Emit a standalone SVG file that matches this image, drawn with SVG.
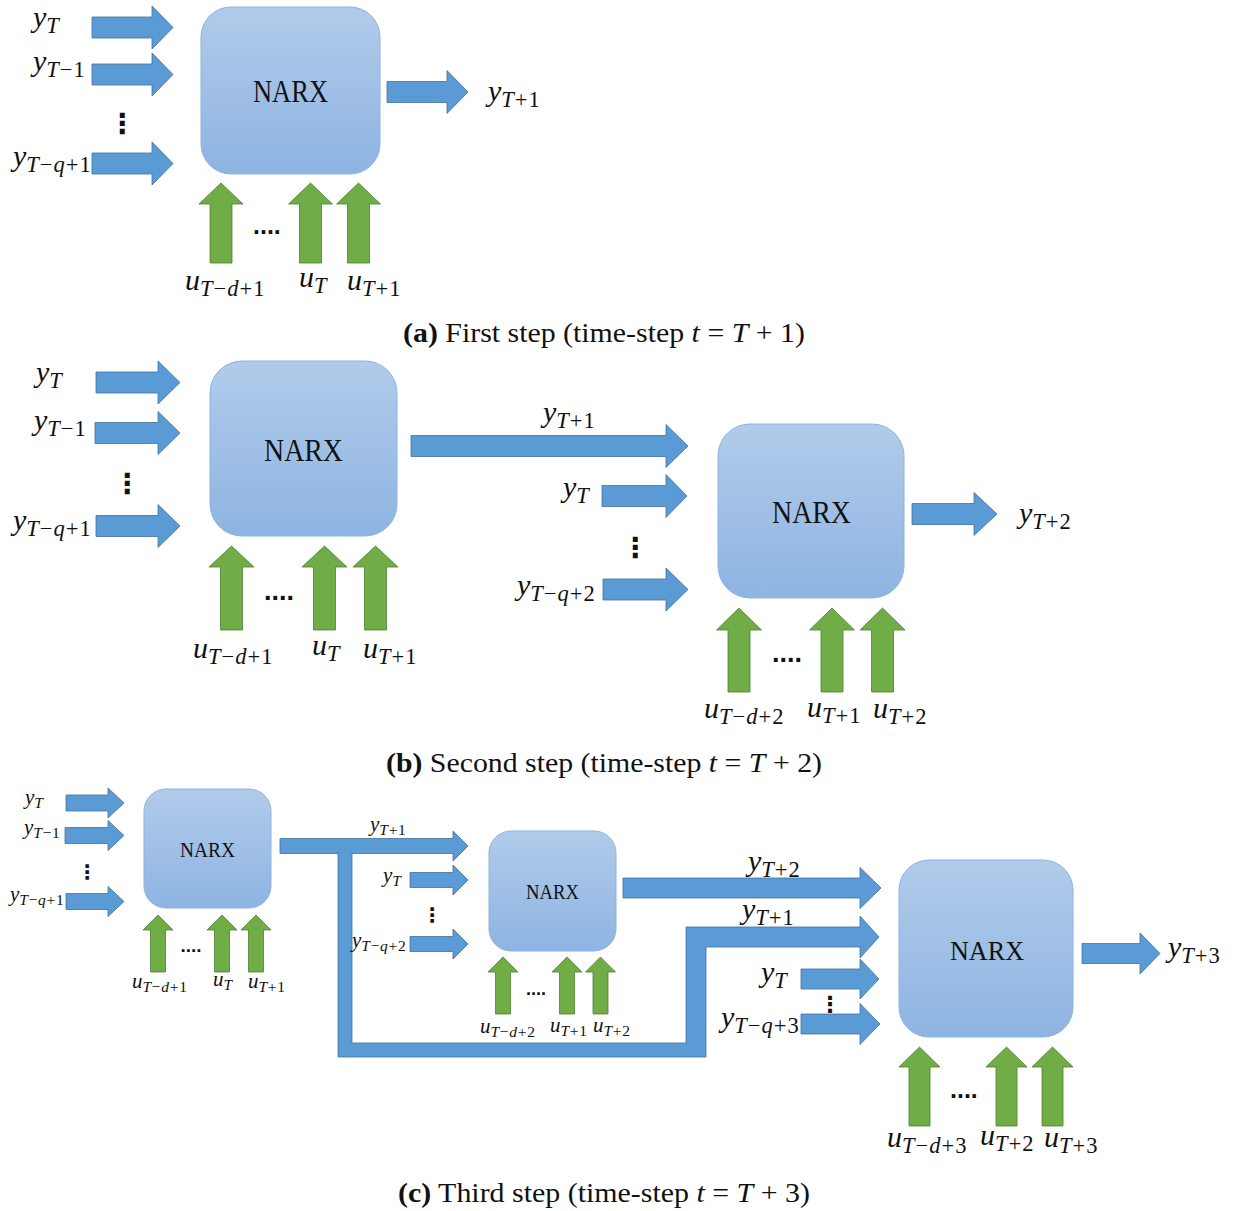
<svg xmlns="http://www.w3.org/2000/svg" width="1240" height="1211" viewBox="0 0 1240 1211">
  <defs>
    <linearGradient id="boxFill" x1="0" y1="0" x2="0" y2="1">
      <stop offset="0" stop-color="#b1cbea"/>
      <stop offset="1" stop-color="#8eb4e2"/>
    </linearGradient>
    <style>
      .box { fill: url(#boxFill); stroke: #8db3e2; stroke-width: 1; }
      .ba { fill: #5b9bd5; stroke: #41719c; stroke-width: 0.8; }
      .ga { fill: #70ad47; stroke: #507e32; stroke-width: 0.8; }
      .nx { font-family: "Liberation Serif", "Times New Roman", serif; fill: #111; text-anchor: middle; }
      .m { font-family: "Liberation Serif", "Times New Roman", serif; font-style: italic; fill: #111; }
      .L { font-size: 30px; }
      .S { font-size: 21px; }
      .L .sb { font-size: 22.5px; letter-spacing: 1px; }
      .S .sb { font-size: 15.5px; letter-spacing: 0.7px; }
      .r { font-style: normal; }
      .hd { font-family: "Liberation Sans", Arial, sans-serif; font-weight: bold; fill: #111; }
      .vd { font-family: "DejaVu Sans", sans-serif; font-weight: bold; fill: #111; text-anchor: middle; }
      .cap { font-family: "Liberation Serif", "Times New Roman", serif; font-size: 27px; fill: #111; }
    </style>
  </defs>
  <rect width="1240" height="1211" fill="#ffffff"/>

  <!-- NARX blocks -->
  <g id="a-narx"><rect class="box" x="201" y="7" width="179" height="167" rx="30"/><text class="nx" x="290.5" y="102" font-size="31" textLength="75" lengthAdjust="spacingAndGlyphs">NARX</text></g>
  <g id="b-narx1"><rect class="box" x="210" y="361" width="187" height="175" rx="32"/><text class="nx" x="303.5" y="461" font-size="32" textLength="79" lengthAdjust="spacingAndGlyphs">NARX</text></g>
  <g id="b-narx2"><rect class="box" x="718" y="424" width="186" height="174" rx="32"/><text class="nx" x="811.5" y="523" font-size="32" textLength="79" lengthAdjust="spacingAndGlyphs">NARX</text></g>
  <g id="c-narx1"><rect class="box" x="144" y="789" width="127" height="119" rx="22"/><text class="nx" x="207.5" y="857" font-size="21" textLength="55" lengthAdjust="spacingAndGlyphs">NARX</text></g>
  <g id="c-narx2"><rect class="box" x="489" y="831" width="127" height="120" rx="22"/><text class="nx" x="552.5" y="899" font-size="20" textLength="53" lengthAdjust="spacingAndGlyphs">NARX</text></g>
  <g id="c-narx3"><rect class="box" x="899" y="860" width="174" height="177" rx="30"/><text class="nx" x="987" y="960" font-size="27" textLength="74" lengthAdjust="spacingAndGlyphs">NARX</text></g>

  <!-- block arrows: blue = outputs / lagged outputs, green = exogenous inputs -->
  <g id="connectors">
    <!-- (a) -->
    <path class="ba" d="M92,17H152V6L173,27.5L152,49V38H92Z"/>
    <path class="ba" d="M92,64H152V53L173,74.5L152,96V85H92Z"/>
    <path class="ba" d="M92,153H152V142L173,163.5L152,185V174H92Z"/>
    <path class="ba" d="M387,81.5H447V70.5L468,92L447,113.5V102.5H387Z"/>
    <path class="ga" d="M210,263V204H199L221,183L243,204H232V263Z"/>
    <path class="ga" d="M299.5,263V204H288.5L310.5,183L332.5,204H321.5V263Z"/>
    <path class="ga" d="M347.5,263V204H336.5L358.5,183L380.5,204H369.5V263Z"/>

    <!-- (b) -->
    <path class="ba" d="M96,372H158V361L180,382.5L158,404V393H96Z"/>
    <path class="ba" d="M95,422.5H158V411.5L180,433L158,454.5V443.5H95Z"/>
    <path class="ba" d="M96,515.5H158V504.5L180,526L158,547.5V536.5H96Z"/>
    <path class="ba" d="M411,435.5H666V424.5L688,446L666,467.5V456.5H411Z"/>
    <path class="ba" d="M602,485.5H666V474.5L687,496L666,517.5V506.5H602Z"/>
    <path class="ba" d="M603,579H666V568L688,589.5L666,611V600H603Z"/>
    <path class="ba" d="M912,503.5H974V492.5L997,514L974,535.5V524.5H912Z"/>
    <path class="ga" d="M220.5,630V567H209L231.5,546L254,567H242.5V630Z"/>
    <path class="ga" d="M313.5,630V567H302L324.5,546L347,567H335.5V630Z"/>
    <path class="ga" d="M364.5,630V567H353L375.5,546L398,567H386.5V630Z"/>
    <path class="ga" d="M728,692V630H716.5L739,608L761.5,630H750V692Z"/>
    <path class="ga" d="M821,692V630H809.5L832,608L854.5,630H843V692Z"/>
    <path class="ga" d="M871.5,692V630H860L882.5,608L905,630H893.5V692Z"/>

    <!-- (c) -->
    <path class="ba" d="M66,795H108V788L124,803L108,818V811H66Z"/>
    <path class="ba" d="M65,827.5H108V820.5L124,835.5L108,850.5V843.5H65Z"/>
    <path class="ba" d="M66,893.5H108V886.5L124,901.5L108,916.5V909.5H66Z"/>
    <path class="ba" d="M410,872.5H453V865L468,880L453,895V887.5H410Z"/>
    <path class="ba" d="M410,936.5H453V929L468,944L453,959V951.5H410Z"/>
    <!-- y_{T+1} fed forward to both later blocks -->
    <path class="ba" d="M280,838.5H453V831L468,846L453,861V853.5H352V1043H686V927H860V916L879,937L860,958V947H706V1057H338V853.5H280Z"/>
    <path class="ba" d="M623,878H860V867.5L881,888L860,908.5V898H623Z"/>
    <path class="ba" d="M801,969H860V959L879,979L860,999V989H801Z"/>
    <path class="ba" d="M801,1014H860V1003.5L880,1024L860,1044.5V1034H801Z"/>
    <path class="ba" d="M1082,943.5H1140V933L1160,953.5L1140,974V963.5H1082Z"/>
    <path class="ga" d="M150.5,972V930H143L158,915L173,930H165.5V972Z"/>
    <path class="ga" d="M214.5,972V930H207L222,915L237,930H229.5V972Z"/>
    <path class="ga" d="M248.5,972V930H241L256,915L271,930H263.5V972Z"/>
    <path class="ga" d="M495.5,1014V972H488L503,957L518,972H510.5V1014Z"/>
    <path class="ga" d="M559.5,1014V972H552L567,957L582,972H574.5V1014Z"/>
    <path class="ga" d="M593,1014V972H585.5L600.5,957L615.5,972H608V1014Z"/>
    <path class="ga" d="M909,1126V1067H899L919.5,1047L940,1067H930V1126Z"/>
    <path class="ga" d="M996,1126V1067H986L1006.5,1047L1027,1067H1017V1126Z"/>
    <path class="ga" d="M1042,1126V1067H1032L1052.5,1047L1073,1067H1063V1126Z"/>
  </g>

  <!-- variable labels -->
  <g id="labels">
    <!-- (a) -->
    <text class="m L" x="33" y="27">y<tspan class="sb" dy="6">T</tspan></text>
    <text class="m L" x="33" y="71">y<tspan class="sb" dy="6">T<tspan class="r">−1</tspan></tspan></text>
    <text class="m L" x="13" y="166">y<tspan class="sb" dy="6">T<tspan class="r">−</tspan>q<tspan class="r">+1</tspan></tspan></text>
    <text class="m L" x="488" y="101">y<tspan class="sb" dy="6">T<tspan class="r">+1</tspan></tspan></text>
    <text class="m L" x="185" y="290">u<tspan class="sb" dy="6">T<tspan class="r">−</tspan>d<tspan class="r">+1</tspan></tspan></text>
    <text class="m L" x="299" y="287">u<tspan class="sb" dy="6">T</tspan></text>
    <text class="m L" x="347" y="290">u<tspan class="sb" dy="6">T<tspan class="r">+1</tspan></tspan></text>

    <!-- (b) -->
    <text class="m L" x="36" y="382">y<tspan class="sb" dy="6">T</tspan></text>
    <text class="m L" x="34" y="430">y<tspan class="sb" dy="6">T<tspan class="r">−1</tspan></tspan></text>
    <text class="m L" x="13" y="530">y<tspan class="sb" dy="6">T<tspan class="r">−</tspan>q<tspan class="r">+1</tspan></tspan></text>
    <text class="m L" x="543" y="422">y<tspan class="sb" dy="6">T<tspan class="r">+1</tspan></tspan></text>
    <text class="m L" x="563" y="497">y<tspan class="sb" dy="6">T</tspan></text>
    <text class="m L" x="517" y="595">y<tspan class="sb" dy="6">T<tspan class="r">−</tspan>q<tspan class="r">+2</tspan></tspan></text>
    <text class="m L" x="1019" y="523">y<tspan class="sb" dy="6">T<tspan class="r">+2</tspan></tspan></text>
    <text class="m L" x="193" y="658">u<tspan class="sb" dy="6">T<tspan class="r">−</tspan>d<tspan class="r">+1</tspan></tspan></text>
    <text class="m L" x="312" y="655">u<tspan class="sb" dy="6">T</tspan></text>
    <text class="m L" x="363" y="658">u<tspan class="sb" dy="6">T<tspan class="r">+1</tspan></tspan></text>
    <text class="m L" x="704" y="718">u<tspan class="sb" dy="6">T<tspan class="r">−</tspan>d<tspan class="r">+2</tspan></tspan></text>
    <text class="m L" x="807" y="717">u<tspan class="sb" dy="6">T<tspan class="r">+1</tspan></tspan></text>
    <text class="m L" x="873" y="718">u<tspan class="sb" dy="6">T<tspan class="r">+2</tspan></tspan></text>

    <!-- (c) first block -->
    <text class="m S" x="25" y="804">y<tspan class="sb" dy="4">T</tspan></text>
    <text class="m S" x="24" y="834">y<tspan class="sb" dy="4">T<tspan class="r">−1</tspan></tspan></text>
    <text class="m S" x="10" y="901">y<tspan class="sb" dy="4">T<tspan class="r">−</tspan>q<tspan class="r">+1</tspan></tspan></text>
    <text class="m S" x="132" y="988">u<tspan class="sb" dy="4">T<tspan class="r">−</tspan>d<tspan class="r">+1</tspan></tspan></text>
    <text class="m S" x="213" y="986">u<tspan class="sb" dy="4">T</tspan></text>
    <text class="m S" x="248" y="988">u<tspan class="sb" dy="4">T<tspan class="r">+1</tspan></tspan></text>
    <!-- (c) second block -->
    <text class="m S" x="370" y="831">y<tspan class="sb" dy="4">T<tspan class="r">+1</tspan></tspan></text>
    <text class="m S" x="383" y="882">y<tspan class="sb" dy="4">T</tspan></text>
    <text class="m S" x="352" y="947">y<tspan class="sb" dy="4">T<tspan class="r">−</tspan>q<tspan class="r">+2</tspan></tspan></text>
    <text class="m S" x="480" y="1033">u<tspan class="sb" dy="4">T<tspan class="r">−</tspan>d<tspan class="r">+2</tspan></tspan></text>
    <text class="m S" x="550" y="1032">u<tspan class="sb" dy="4">T<tspan class="r">+1</tspan></tspan></text>
    <text class="m S" x="593" y="1032">u<tspan class="sb" dy="4">T<tspan class="r">+2</tspan></tspan></text>
    <!-- (c) third block -->
    <text class="m L" x="748" y="871">y<tspan class="sb" dy="6">T<tspan class="r">+2</tspan></tspan></text>
    <text class="m L" x="742" y="919">y<tspan class="sb" dy="6">T<tspan class="r">+1</tspan></tspan></text>
    <text class="m L" x="761" y="982">y<tspan class="sb" dy="6">T</tspan></text>
    <text class="m L" x="721" y="1027">y<tspan class="sb" dy="6">T<tspan class="r">−</tspan>q<tspan class="r">+3</tspan></tspan></text>
    <text class="m L" x="1168" y="957">y<tspan class="sb" dy="6">T<tspan class="r">+3</tspan></tspan></text>
    <text class="m L" x="887" y="1147">u<tspan class="sb" dy="6">T<tspan class="r">−</tspan>d<tspan class="r">+3</tspan></tspan></text>
    <text class="m L" x="980" y="1145">u<tspan class="sb" dy="6">T<tspan class="r">+2</tspan></tspan></text>
    <text class="m L" x="1044" y="1147">u<tspan class="sb" dy="6">T<tspan class="r">+3</tspan></tspan></text>
  </g>

  <!-- ellipses -->
  <g id="ellipses">
    <text class="vd" x="122" y="133" font-size="28">⋮</text>
    <text class="vd" x="127" y="493" font-size="28">⋮</text>
    <text class="vd" x="635" y="557" font-size="28">⋮</text>
    <text class="vd" x="87" y="879" font-size="20">⋮</text>
    <text class="vd" x="432" y="922" font-size="20">⋮</text>
    <text class="vd" x="830" y="1012" font-size="22">⋮</text>
    <text class="hd" x="253" y="234" font-size="25">....</text>
    <text class="hd" x="264" y="600" font-size="27">....</text>
    <text class="hd" x="772" y="662" font-size="27">....</text>
    <text class="hd" x="180.5" y="952" font-size="19">....</text>
    <text class="hd" x="526" y="995" font-size="18">....</text>
    <text class="hd" x="950" y="1098" font-size="25">....</text>
  </g>

  <!-- sub-figure captions -->
  <g id="captions">
    <text class="cap" x="403" y="342" textLength="402" lengthAdjust="spacingAndGlyphs"><tspan font-weight="bold">(a)</tspan> First step (time-step <tspan font-style="italic">t</tspan> = <tspan font-style="italic">T</tspan> + 1)</text>
    <text class="cap" x="386" y="772" textLength="436" lengthAdjust="spacingAndGlyphs"><tspan font-weight="bold">(b)</tspan> Second step (time-step <tspan font-style="italic">t</tspan> = <tspan font-style="italic">T</tspan> + 2)</text>
    <text class="cap" x="398" y="1202" textLength="412" lengthAdjust="spacingAndGlyphs"><tspan font-weight="bold">(c)</tspan> Third step (time-step <tspan font-style="italic">t</tspan> = <tspan font-style="italic">T</tspan> + 3)</text>
  </g>
</svg>
